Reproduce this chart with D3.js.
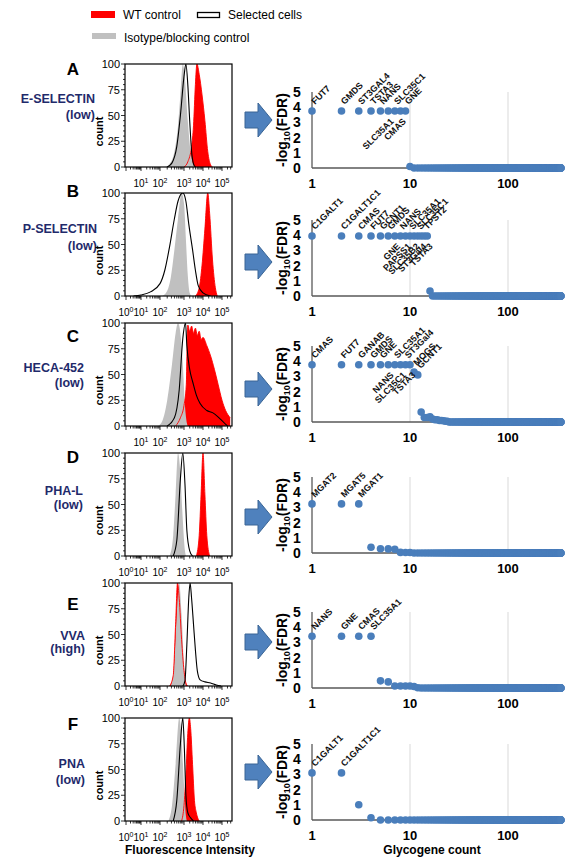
<!DOCTYPE html>
<html><head><meta charset="utf-8">
<script src="https://cdn.jsdelivr.net/npm/d3@7"></script>
<style>
body{margin:0;background:#fff}
svg text{font-family:"Liberation Sans",Arial,Helvetica,sans-serif}
</style></head>
<body><svg id="c" width="579" height="866"></svg>
<script>
// ---------------- DATA ----------------
const panelLetters = ["A","B","C","D","E","F"];
const markerNames = ["E-SELECTIN","P-SELECTIN","HECA-452","PHA-L","VVA","PNA"];
const markerLevels = ["(low)","(low)","(low)","(low)","(high)","(low)"];
const decadeTicks = [0,1,2,3,4,5];
const countTicks = [0,25,50,75,100];
const rankTicks = [1,10,100];
const fdrTicks = [0,1,2,3,4,5];
const legendLabels = ["WT control","Selected cells","Isotype/blocking control"];
const nGenes = 347;

// histogram curves: [log10 fluorescence, count]
const isoA = [[2.2,0],[2.4,3],[2.6,15],[2.75,40],[2.85,70],[2.95,100],[3.05,85],[3.2,45],[3.35,15],[3.5,2],[3.6,0]];
const wtA  = [[3.0,0],[3.2,5],[3.4,20],[3.5,40],[3.6,80],[3.68,100],[3.8,90],[3.95,70],[4.1,45],[4.25,15],[4.4,2],[4.5,0]];
const selA = [[2.3,0],[2.5,4],[2.7,20],[2.85,50],[3.0,88],[3.1,100],[3.2,80],[3.3,45],[3.4,15],[3.5,3],[3.6,0]];

const isoB = [[2.1,0],[2.3,5],[2.45,18],[2.6,45],[2.75,75],[2.9,100],[3.0,90],[3.1,55],[3.2,20],[3.3,3],[3.4,0]];
const wtB  = [[3.6,0],[3.8,8],[3.95,30],[4.1,65],[4.25,100],[4.35,80],[4.5,35],[4.65,8],[4.75,0]];
const selB = [[0.5,0],[1.0,1],[1.5,4],[2.0,12],[2.2,25],[2.4,48],[2.6,75],[2.75,92],[2.95,100],[3.1,92],[3.25,70],[3.45,45],[3.6,25],[3.75,10],[4.0,3],[4.4,0]];

const isoC = [[1.9,0],[2.1,5],[2.3,25],[2.5,60],[2.65,90],[2.75,100],[2.85,90],[2.95,60],[3.05,20],[3.15,3],[3.2,0]];
const wtC  = [[2.65,0],[2.85,8],[3.0,20],[3.12,40],[3.2,98],[3.3,92],[3.4,97],[3.5,90],[3.6,95],[3.7,88],[3.8,92],[3.9,84],[4.0,86],[4.2,78],[4.4,68],[4.6,55],[4.8,40],[5.0,25],[5.2,15],[5.45,8]];
const selC = [[2.3,0],[2.6,8],[2.8,35],[2.95,85],[3.08,100],[3.15,78],[3.3,55],[3.47,42],[3.65,30],[3.84,22],[4.2,15],[4.5,13],[4.9,7],[5.3,0]];

const isoD = [[2.4,0],[2.55,20],[2.65,60],[2.75,100],[2.85,80],[2.95,35],[3.05,5],[3.1,0]];
const wtD  = [[3.65,0],[3.8,20],[3.9,60],[4.0,100],[4.1,60],[4.2,20],[4.35,0]];
const selD = [[2.55,0],[2.7,15],[2.85,75],[2.95,100],[3.05,70],[3.15,25],[3.3,5],[3.45,0]];

const isoE = [[2.45,0],[2.6,25],[2.7,70],[2.8,100],[2.9,70],[3.0,20],[3.1,0]];
const wtE  = [[2.4,0],[2.55,10],[2.65,60],[2.73,100],[2.8,85],[2.9,45],[3.0,15],[3.1,3],[3.2,0]];
const selE = [[2.95,0],[3.05,5],[3.15,40],[3.25,85],[3.32,100],[3.4,85],[3.5,60],[3.6,35],[3.7,15],[3.85,6],[4.1,4],[4.4,3],[4.7,1],[4.95,0]];

const isoF = [[2.35,0],[2.5,15],[2.65,55],[2.8,100],[2.9,80],[3.0,35],[3.1,5],[3.15,0]];
const wtF  = [[2.9,0],[3.0,15],[3.1,45],[3.2,85],[3.28,100],[3.35,90],[3.45,55],[3.55,20],[3.65,8],[3.8,0]];
const selF = [[2.55,0],[2.7,20],[2.85,75],[2.95,100],[3.02,70],[3.1,25],[3.2,8],[3.35,3],[3.5,0]];

// -log10(FDR) by gene rank (remaining genes up to nGenes are 0)
const fdrA = [3.75,3.75,3.75,3.75,3.75,3.75,3.75,3.75,3.75,0.1];
const fdrB = [3.95,3.95,3.95,3.95,3.95,3.95,3.95,3.95,3.95,3.95,3.95,3.95,3.95,3.95,3.95,0.33];
const fdrC = [3.77,3.77,3.77,3.77,3.77,3.77,3.77,3.77,3.77,3.77,3.28,3.1,0.65,0.3,0.3,0.35,0.2,0.15,0.15,0.1,0.1,0.08,0.05,0.05];
const fdrD = [3.23,3.23,3.23,0.38,0.28,0.27,0.25,0.04,0.03,0.03];
const fdrE = [3.4,3.4,3.4,3.4,0.47,0.4,0.13,0.13,0.13,0.13,0.1,0.02];
const fdrF = [3.1,3.1,1.0,0.15];

// gene labels by rank: [name, side]
const genesA = [["FUT7","up"],["GMDS","up"],["ST3GAL4","up"],["TSTA3","up"],["NANS","up"],["SLC35A1","down"],["SLC35C1","up"],["CMAS","down"],["GNE","up"]];
const genesB = [["C1GALT1","up"],["C1GALT1C1","up"],["CMAS","up"],["FUT7","up"],["GCNT1","up"],["GMDS","up"],["GNE","down"],["NANS","up"],["PAPSS1","down"],["SLC35A1","up"],["SLC35B2","down"],["SLC35C1","up"],["ST3Gal4","down"],["TPST2","up"],["TSTA3","down"]];
const genesC = [["CMAS","up"],["FUT7","up"],["GANAB","up"],["GMDS","up"],["GNE","up"],["NANS","down"],["SLC35A1","up"],["SLC35C1","down"],["ST3Gal4","up"],["TSTA3","down"],["MOGS","up"],["GCNT1","up"]];
const genesD = [["MGAT2","up"],["MGAT5","up"],["MGAT1","up"]];
const genesE = [["NANS","up"],["GNE","up"],["CMAS","up"],["SLC35A1","up"]];
const genesF = [["C1GALT1","up"],["C1GALT1C1","up"]];

const isoAll = [isoA,isoB,isoC,isoD,isoE,isoF];
const wtAll  = [wtA,wtB,wtC,wtD,wtE,wtF];
const selAll = [selA,selB,selC,selD,selE,selF];
const fdrAll = [fdrA,fdrB,fdrC,fdrD,fdrE,fdrF];
const genesAll = [genesA,genesB,genesC,genesD,genesE,genesF];

// ---------------- LAYOUT ----------------
const svg = d3.select("#c");
const RED = "#ff0000", GRAY = "#c0c0c0", DOT = "#4a7ebb", NAVY = "#1f2a6b";
const boxL = 125, boxR = 232, histH = 103;
const histTops = [64,193,323,453,583,718];
const showZero = [false,true,false,true,true,true];
const scatZero = [168,296,422,553,688,820];
const scatH = 76;
const arrowY = [120,262,389,517,642,772];
const letterY = [75,197,342,463,610,730];
const nameY = [[103,119],[233,250],[372,387],[495,509],[640,653],[768,784]];
const nameX = [95,97,84,83,85,85];

const histX = d3.scaleLinear().domain([0,1,2,3,4,5,5.55]).range([126,141,160,184,203,222,232]).clamp(true);
const xS = d3.scaleLog().domain([1,1000]).range([312,606]);

// legend
svg.append("rect").attr("x",91).attr("y",11).attr("width",24).attr("height",7).attr("fill",RED);
svg.append("text").attr("x",123).attr("y",19).attr("font-size",12).text(legendLabels[0]);
svg.append("rect").attr("x",197.5).attr("y",12.5).attr("width",22).attr("height",5).attr("fill","#fff").attr("stroke","#000").attr("stroke-width",1.3);
svg.append("text").attr("x",228).attr("y",19).attr("font-size",12).text(legendLabels[1]);
svg.append("rect").attr("x",92).attr("y",33).attr("width",24).attr("height",6).attr("fill",GRAY);
svg.append("text").attr("x",124).attr("y",42).attr("font-size",12).text(legendLabels[2]);

const defs = svg.append("defs");

panelLetters.forEach((L,i)=>{
  const top = histTops[i], bot = top + histH;
  const yH = d3.scaleLinear().domain([0,100]).range([bot,top]);

  // letter & name
  svg.append("text").attr("x",73).attr("y",letterY[i]).attr("text-anchor","middle")
    .attr("font-size",17).attr("font-weight","bold").text(L);
  svg.append("text").attr("x",nameX[i]).attr("y",nameY[i][0]).attr("text-anchor","end")
    .attr("font-size",12.5).attr("font-weight","bold").attr("fill",NAVY).text(markerNames[i]);
  svg.append("text").attr("x",nameX[i]).attr("y",nameY[i][1]).attr("text-anchor","end")
    .attr("font-size",12.5).attr("font-weight","bold").attr("fill",NAVY).text(markerLevels[i]);

  // histogram
  defs.append("clipPath").attr("id","clip"+i).append("rect")
    .attr("x",boxL).attr("y",top).attr("width",boxR-boxL).attr("height",histH);
  const g = svg.append("g").attr("clip-path",`url(#clip${i})`);
  const area = d3.area().x(d=>histX(d[0])).y0(yH(0)).y1(d=>yH(d[1])).curve(d3.curveMonotoneX);
  const line = d3.line().x(d=>histX(d[0])).y(d=>yH(d[1])).curve(d3.curveMonotoneX);
  g.append("path").attr("d",area(wtAll[i])).attr("fill",RED);
  g.append("path").attr("d",area(isoAll[i])).attr("fill",GRAY);
  g.append("path").attr("d",line(wtAll[i])).attr("fill","none").attr("stroke",RED).attr("stroke-width",0.9);
  g.append("path").attr("d",line(selAll[i])).attr("fill","none").attr("stroke","#000").attr("stroke-width",1.1);
  svg.append("rect").attr("x",boxL).attr("y",top).attr("width",boxR-boxL).attr("height",histH)
    .attr("fill","none").attr("stroke","#000").attr("stroke-width",1.2);

  // x ticks (log minor)
  const xt = [];
  for (let k=0;k<=5;k++) for (let m=1;m<=9;m++){ const v=k+Math.log10(m); if (v<=5.55) xt.push({v, major:m===1}); }
  svg.append("g").selectAll("line").data(xt).join("line")
    .attr("x1",d=>histX(d.v)).attr("x2",d=>histX(d.v)).attr("y1",bot).attr("y2",d=>bot+(d.major?4:2.5))
    .attr("stroke","#000").attr("stroke-width",0.8);
  const xl = svg.append("g").selectAll("text").data(decadeTicks.filter(k=>k>0||showZero[i])).join("text")
    .attr("x",k=>histX(k)).attr("y",bot+20).attr("text-anchor","middle").attr("font-size",10);
  xl.append("tspan").text("10");
  xl.append("tspan").attr("dy",-4).attr("font-size",7).text(k=>k);

  // y ticks
  const yt = d3.range(0,101,5);
  svg.append("g").selectAll("line").data(yt).join("line")
    .attr("x1",boxL).attr("x2",d=>boxL-(d%25===0?4:2)).attr("y1",d=>yH(d)).attr("y2",d=>yH(d))
    .attr("stroke","#000").attr("stroke-width",0.8);
  svg.append("g").selectAll("text").data(countTicks).join("text")
    .attr("x",boxL-5).attr("y",d=>yH(d)+4).attr("text-anchor","end").attr("font-size",11).text(d=>d);
  svg.append("text").attr("transform",`translate(103,${(top+bot)/2+16}) rotate(-90)`)
    .attr("text-anchor","middle").attr("font-size",11).attr("font-weight","bold").text("count");

  // arrow
  const cy = arrowY[i];
  svg.append("path").attr("d",`M245,${cy-8}L258,${cy-8}L258,${cy-17}L272,${cy}L258,${cy+17}L258,${cy+8}L245,${cy+8}Z`)
    .attr("fill","#4f81bd").attr("stroke","#3a6595").attr("stroke-width",1);

  // scatter
  const z = scatZero[i];
  const yS = d3.scaleLinear().domain([0,5]).range([z, z-scatH]);
  const vals = fdrAll[i].concat(new Array(nGenes - fdrAll[i].length).fill(0));
  svg.append("g").selectAll("line").data(rankTicks.slice(1)).join("line")
    .attr("x1",d=>xS(d)).attr("x2",d=>xS(d)).attr("y1",yS(5)).attr("y2",yS(0))
    .attr("stroke","#d9d9d9").attr("stroke-width",1);
  svg.append("line").attr("x1",xS(1)).attr("x2",xS(1)).attr("y1",yS(5)).attr("y2",yS(0))
    .attr("stroke","#595959").attr("stroke-width",1.3);
  svg.append("line").attr("x1",xS(1)).attr("x2",xS(nGenes)).attr("y1",yS(0)).attr("y2",yS(0))
    .attr("stroke","#595959").attr("stroke-width",1.3);
  svg.append("g").selectAll("circle").data(vals).join("circle")
    .attr("cx",(d,j)=>xS(j+1)).attr("cy",d=>yS(d)).attr("r",3.8).attr("fill",DOT);
  svg.append("g").selectAll("text").data(fdrTicks).join("text")
    .attr("x",297).attr("y",d=>yS(d)+5).attr("text-anchor","middle")
    .attr("font-size",14).attr("font-weight","bold").text(d=>d);
  svg.append("g").selectAll("text").data(rankTicks).join("text")
    .attr("x",d=>xS(d)).attr("y",z+20).attr("text-anchor","middle")
    .attr("font-size",13).attr("font-weight","bold").text(d=>d);
  const yt2 = svg.append("text").attr("transform",`translate(287,${z-scatH/2}) rotate(-90)`)
    .attr("text-anchor","middle").attr("font-size",14).attr("font-weight","bold");
  yt2.append("tspan").text("-log");
  yt2.append("tspan").attr("font-size",9).attr("dy",3).text("10");
  yt2.append("tspan").attr("dy",-3).text("(FDR)");

  // gene labels
  svg.append("g").selectAll("text").data(genesAll[i]).join("text")
    .attr("transform",(d,j)=>{
      const px = xS(j+1), py = yS(fdrAll[i][j]);
      return d[1]==="up" ? `translate(${px+3},${py-6}) rotate(-45)` : `translate(${px+6},${py+11}) rotate(-45)`;
    })
    .attr("text-anchor",d=>d[1]==="up"?"start":"end")
    .attr("font-size",9).attr("font-weight","bold").attr("fill","#111").text(d=>d[0]);
});

svg.append("text").attr("x",190).attr("y",854).attr("text-anchor","middle")
  .attr("font-size",12).attr("font-weight","bold").text("Fluorescence Intensity");
svg.append("text").attr("x",432).attr("y",854).attr("text-anchor","middle")
  .attr("font-size",12).attr("font-weight","bold").text("Glycogene count");
</script></body></html>
